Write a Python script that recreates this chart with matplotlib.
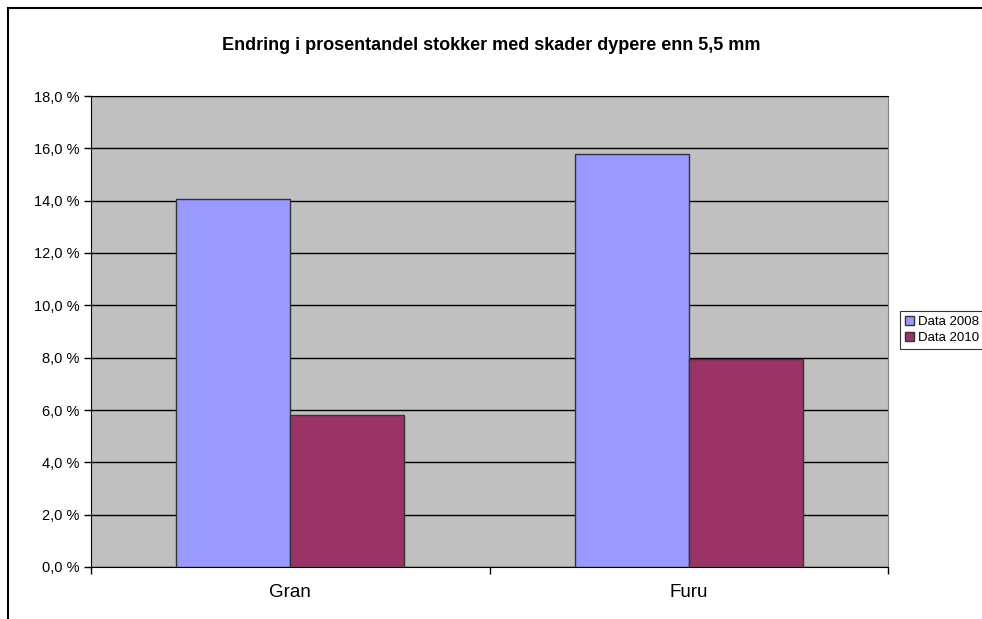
import matplotlib

matplotlib.use("Agg")
import matplotlib.pyplot as plt
from matplotlib.lines import Line2D
from matplotlib.ticker import FuncFormatter, FixedLocator
import numpy as np

plt.rcParams["font.family"] = ["Liberation Sans", "DejaVu Sans"]

categories = ["Gran", "Furu"]
series_names = ["Data 2008", "Data 2010"]
data_2008 = [14.05, 15.78]
data_2010 = [5.82, 7.95]
y_ticks = [0, 2, 4, 6, 8, 10, 12, 14, 16, 18]
title = "Endring i prosentandel stokker med skader dypere enn 5,5 mm"

fig = plt.figure(figsize=(9.82, 6.19), dpi=100)
ax = fig.add_axes([91 / 982, 52 / 619, 797 / 982, 471 / 619])
ax.set_facecolor("#C0C0C0")

x = np.arange(len(categories))
w = 0.286
ax.bar(x - w / 2, data_2008, w, color="#9999FF", edgecolor="#333333", lw=1.0,
       label=series_names[0], zorder=3)
ax.bar(x + w / 2, data_2010, w, color="#993366", edgecolor="#333333", lw=1.0,
       label=series_names[1], zorder=3)

ax.set_xlim(-0.5, len(categories) - 0.5)
ax.set_ylim(0, 18)
ax.set_yticks(y_ticks)
ax.yaxis.set_major_formatter(FuncFormatter(lambda v, _: f"{v:.1f} %".replace(".", ",")))
ax.yaxis.grid(True, color="black", lw=1.0, zorder=1)
ax.set_axisbelow(True)

# category boundaries get the ticks, names sit under the middle
ax.xaxis.set_major_locator(FixedLocator(np.arange(len(categories) + 1) - 0.5))
ax.xaxis.set_major_formatter(FuncFormatter(lambda v, _: ""))
ax.set_xticks(x, minor=True)
ax.set_xticklabels(categories, minor=True)
ax.tick_params(axis="x", which="minor", length=0, pad=12, labelsize=13.5)
ax.tick_params(axis="x", which="major", length=5, width=1, direction="out")
ax.tick_params(axis="y", length=5, width=1, direction="out", labelsize=10.5, pad=3.5)

for s in ("left", "bottom", "top"):
    ax.spines[s].set_color("black")
ax.spines["right"].set_color("#808080")

fig.text(0.5, 1 - 46 / 619, title, ha="center", va="center", fontsize=13,
         fontweight="bold")

leg = fig.legend(loc="center left", bbox_to_anchor=(900 / 982, 1 - 330 / 619),
                 fontsize=9.5, frameon=True, fancybox=False, edgecolor="black",
                 handlelength=0.7, handleheight=0.7, handletextpad=0.3,
                 borderpad=0.35, labelspacing=0.3, borderaxespad=0)
leg.get_frame().set_linewidth(0.8)

# outer chart-area frame (only top and left visible in the crop)
fig.add_artist(Line2D([8 / 982, 8 / 982], [0, 1 - 8 / 619], transform=fig.transFigure,
                      color="black", lw=1.5))
fig.add_artist(Line2D([8 / 982, 1], [1 - 8 / 619, 1 - 8 / 619], transform=fig.transFigure,
                      color="black", lw=1.5))

fig.savefig("out.png", dpi=100)
